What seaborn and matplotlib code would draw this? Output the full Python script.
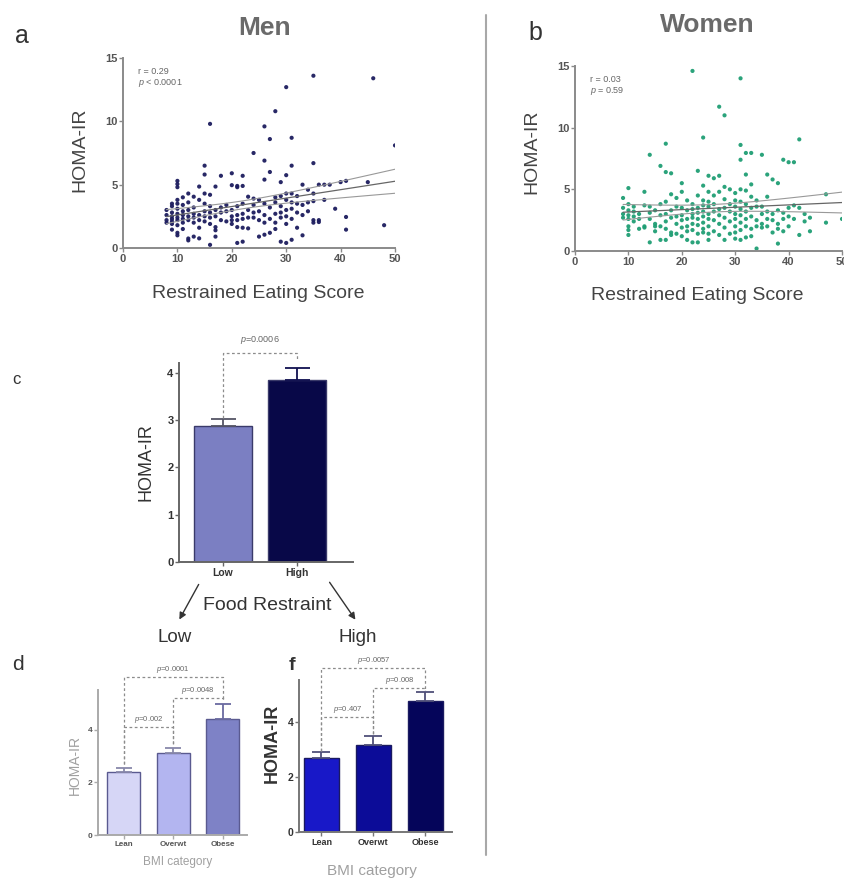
import numpy as np
import pandas as pd
import seaborn as sns
import matplotlib.pyplot as plt
from matplotlib.lines import Line2D
from matplotlib.patches import FancyArrowPatch

# ---- data ----
# panel a, men: (restrained eating score, HOMA-IR)
men_points = [
    (8, 3.0), (8, 2.6), (8, 2.2), (8, 2.0),
    (9, 3.5), (9, 3.3), (9, 2.8), (9, 2.5), (9, 2.3), (9, 2.1), (9, 1.9), (9, 1.45),
    (10, 5.3), (10, 5.05), (10, 4.8), (10, 3.8), (10, 3.5), (10, 3.1), (10, 2.7), (10, 2.4),
    (10, 2.2), (10, 1.8), (10, 1.2), (10, 1.0),
    (11, 4.0), (11, 3.4), (11, 2.9), (11, 2.6), (11, 2.3), (11, 2.0), (11, 1.5),
    (12, 4.3), (12, 3.6), (12, 3.0), (12, 2.5), (12, 2.2), (12, 0.75), (12, 0.6),
    (13, 4.05), (13, 3.2), (13, 2.7), (13, 2.4), (13, 2.0), (13, 0.9),
    (14, 4.85), (14, 3.8), (14, 2.6), (14, 2.2), (14, 1.6), (14, 0.76),
    (15, 6.5), (15, 5.8), (15, 4.3), (15, 3.5), (15, 2.9), (15, 2.5), (15, 2.1),
    (16, 9.8), (16, 4.2), (16, 3.3), (16, 2.8), (16, 2.4), (16, 1.9), (16, 0.25),
    (17, 4.85), (17, 3.0), (17, 2.5), (17, 1.65), (17, 1.4), (17, 0.9),
    (18, 5.7), (18, 3.2), (18, 2.8), (18, 2.2),
    (19, 3.4), (19, 2.9), (19, 2.1),
    (20, 5.9), (20, 4.96), (20, 3.0), (20, 2.5), (20, 2.2), (20, 1.9),
    (21, 4.9), (21, 4.8), (21, 3.3), (21, 2.6), (21, 2.2), (21, 1.65), (21, 0.4),
    (22, 5.7), (22, 4.9), (22, 3.5), (22, 2.7), (22, 2.3), (22, 1.6), (22, 0.5),
    (23, 4.05), (23, 3.0), (23, 2.4), (23, 1.55),
    (24, 7.5), (24, 3.9), (24, 3.4), (24, 2.8), (24, 2.4),
    (25, 3.8), (25, 2.9), (25, 2.2), (25, 0.9),
    (26, 9.6), (26, 6.9), (26, 5.4), (26, 3.5), (26, 2.6), (26, 2.0), (26, 1.05),
    (27, 8.6), (27, 6.0), (27, 3.2), (27, 2.3), (27, 1.2),
    (28, 10.8), (28, 4.0), (28, 3.6), (28, 2.7), (28, 2.0), (28, 1.5),
    (29, 5.2), (29, 4.1), (29, 3.3), (29, 2.8), (29, 2.4), (29, 0.5),
    (30, 12.7), (30, 5.75), (30, 4.3), (30, 3.8), (30, 3.0), (30, 2.5), (30, 1.9), (30, 0.4),
    (31, 8.7), (31, 6.5), (31, 4.3), (31, 3.6), (31, 3.1), (31, 2.3), (31, 0.65),
    (32, 4.1), (32, 3.5), (32, 2.8), (32, 1.6),
    (33, 5.0), (33, 3.4), (33, 2.6), (33, 1.0),
    (34, 4.6), (34, 3.6), (34, 2.9),
    (35, 13.6), (35, 6.7), (35, 4.3), (35, 3.7), (35, 2.2), (35, 2.0),
    (36, 5.0), (36, 2.2), (36, 2.05),
    (37, 5.0), (37, 3.8), (38, 5.0), (39, 3.1), (40, 5.2),
    (41, 5.3), (41, 2.45), (41, 1.45),
    (45, 5.2), (46, 13.4), (48, 1.8), (50, 8.1),
]

# panel b, women: (restrained eating score, HOMA-IR)
women_points = [
    (9, 4.3), (9, 3.5), (9, 3.0), (9, 2.7),
    (10, 5.1), (10, 3.8), (10, 3.3), (10, 2.9), (10, 2.6), (10, 2.0), (10, 1.7), (10, 1.3),
    (11, 3.6), (11, 3.2), (11, 2.8), (11, 2.4),
    (12, 3.0), (12, 2.6), (12, 1.8),
    (13, 4.8), (13, 3.7), (13, 2.0), (13, 1.9),
    (14, 7.8), (14, 3.6), (14, 3.1), (14, 2.6), (14, 0.7),
    (15, 3.3), (15, 2.2), (15, 2.0), (15, 1.6),
    (16, 6.9), (16, 3.8), (16, 2.9), (16, 2.0), (16, 0.9),
    (17, 8.7), (17, 6.4), (17, 4.0), (17, 3.0), (17, 2.4), (17, 1.8), (17, 0.9),
    (18, 6.3), (18, 4.6), (18, 3.3), (18, 2.7), (18, 1.5), (18, 1.3),
    (19, 4.3), (19, 3.6), (19, 2.8), (19, 2.2), (19, 1.4),
    (20, 5.5), (20, 4.8), (20, 3.5), (20, 2.9), (20, 2.5), (20, 1.9), (20, 1.2),
    (21, 4.1), (21, 3.3), (21, 2.6), (21, 2.0), (21, 1.6), (21, 0.9),
    (22, 14.6), (22, 3.8), (22, 3.4), (22, 3.0), (22, 2.7), (22, 2.2), (22, 1.7), (22, 0.7),
    (23, 6.5), (23, 4.5), (23, 3.5), (23, 3.1), (23, 2.6), (23, 2.1), (23, 1.4), (23, 0.7),
    (24, 9.2), (24, 5.3), (24, 4.1), (24, 3.7), (24, 3.2), (24, 2.8), (24, 2.3), (24, 1.8), (24, 1.5),
    (25, 6.1), (25, 4.8), (25, 4.0), (25, 3.6), (25, 3.0), (25, 2.6), (25, 2.0), (25, 1.4), (25, 0.9),
    (26, 5.9), (26, 4.5), (26, 3.8), (26, 3.2), (26, 2.5), (26, 1.6),
    (27, 11.7), (27, 6.1), (27, 4.8), (27, 3.4), (27, 2.9), (27, 2.2), (27, 1.3),
    (28, 11.0), (28, 5.2), (28, 4.2), (28, 3.5), (28, 2.7), (28, 1.9), (28, 0.9),
    (29, 5.0), (29, 3.8), (29, 3.2), (29, 2.4), (29, 1.4),
    (30, 4.7), (30, 4.1), (30, 3.6), (30, 3.0), (30, 2.6), (30, 2.0), (30, 1.5), (30, 1.0),
    (31, 14.0), (31, 8.6), (31, 7.4), (31, 5.0), (31, 4.0), (31, 3.4), (31, 2.9), (31, 2.3),
    (31, 1.7), (31, 0.9),
    (32, 7.95), (32, 6.2), (32, 4.9), (32, 3.8), (32, 3.2), (32, 2.6), (32, 2.0), (32, 1.1),
    (33, 7.95), (33, 5.4), (33, 4.4), (33, 3.5), (33, 2.8), (33, 1.8), (33, 1.2),
    (34, 4.1), (34, 3.6), (34, 2.5), (34, 2.0), (34, 0.2),
    (35, 7.8), (35, 3.6), (35, 3.0), (35, 2.2), (35, 1.9),
    (36, 6.2), (36, 4.4), (36, 3.2), (36, 2.6), (36, 2.0),
    (37, 5.8), (37, 3.0), (37, 2.5), (37, 1.5),
    (38, 5.5), (38, 3.3), (38, 2.2), (38, 1.8), (38, 0.6),
    (39, 7.4), (39, 3.1), (39, 2.6), (39, 1.6),
    (40, 7.2), (40, 3.5), (40, 2.8), (40, 2.0),
    (41, 7.2), (41, 3.7), (41, 2.6),
    (42, 9.05), (42, 3.5), (42, 1.3),
    (43, 3.0), (43, 2.4), (44, 2.7), (44, 1.6),
    (47, 4.6), (47, 2.3), (50, 2.6),
]

# panel c
restraint_cats = ['Low', 'High']
restraint_mean = [2.87, 3.85]
restraint_sem = [0.15, 0.25]

# panels d and f
bmi_cats = ['Lean', 'Overwt', 'Obese']
low_mean = [2.4, 3.12, 4.42]
low_sem = [0.15, 0.18, 0.58]
high_mean = [2.7, 3.16, 4.76]
high_sem = [0.2, 0.34, 0.34]

# ---- style ----
sns.set_style('ticks')
plt.rcParams['font.family'] = ['Liberation Sans', 'DejaVu Sans']
plt.rcParams['mathtext.fontset'] = 'custom'
plt.rcParams['mathtext.it'] = 'Liberation Sans:italic'
plt.rcParams['mathtext.rm'] = 'Liberation Sans'

W, H = 845, 882
fig = plt.figure(figsize=(W / 100, H / 100), dpi=100)


def rect(l, t, r, b):
    return [l / W, 1 - b / H, (r - l) / W, (b - t) / H]


def ftext(px, py, s, **kw):
    fig.text(px / W, 1 - py / H, s, ha='center', va='center', **kw)


def style_axis(ax, spine_col, tick_col, fs, bold=True):
    sns.despine(ax=ax)
    for sp in ['left', 'bottom']:
        ax.spines[sp].set_color(spine_col)
        ax.spines[sp].set_linewidth(1.4)
    ax.tick_params(colors=spine_col, length=3, width=1, labelsize=fs,
                   labelcolor=tick_col, pad=1)
    for lab in ax.get_xticklabels() + ax.get_yticklabels():
        lab.set_fontweight('bold' if bold else 'normal')
    ax.set_xlabel('')
    ax.set_ylabel('')


def ci_lines(x, y, xs):
    x = np.asarray(x, float)
    y = np.asarray(y, float)
    b, a = np.polyfit(x, y, 1)
    n = len(x)
    s = np.sqrt(np.sum((y - (a + b * x)) ** 2) / (n - 2))
    se = s * np.sqrt(1 / n + (xs - x.mean()) ** 2 / np.sum((x - x.mean()) ** 2))
    yh = a + b * xs
    return yh - 1.97 * se, yh + 1.97 * se


def scatter_panel(box, pts, color, r_txt, p_txt):
    df = pd.DataFrame(pts, columns=['score', 'homa'])
    ax = fig.add_axes(rect(*box))
    sns.regplot(data=df, x='score', y='homa', ax=ax, ci=None,
                scatter_kws=dict(s=9, color=color, edgecolor='none', alpha=0.95),
                line_kws=dict(color='#666666', lw=0.9))
    xs = np.linspace(df.score.min(), df.score.max(), 50)
    lo, hi = ci_lines(df.score, df.homa, xs)
    ax.plot(xs, lo, color='#999999', lw=0.8)
    ax.plot(xs, hi, color='#999999', lw=0.8)
    ax.set_xlim(0, 50)
    ax.set_ylim(0, 15)
    ax.set_xticks([0, 10, 20, 30, 40, 50])
    ax.set_yticks([0, 5, 10, 15])
    style_axis(ax, '#8a8a8a', '#555555', 8)
    ax.text(2.8, 13.9, r_txt, fontsize=6.5, color='#666666', va='center')
    ax.text(2.8, 13.0, p_txt, fontsize=6.5, color='#666666', va='center')
    return ax


def bar_panel(box, cats, means, sems, colors, edge, errcols, xlim, ylim, yticks, width, cap):
    ax = fig.add_axes(rect(*box))
    df = pd.DataFrame({'cat': cats, 'val': means})
    sns.barplot(data=df, x='cat', y='val', hue='cat', palette=colors, legend=False,
                width=width, edgecolor=edge, linewidth=1, saturation=1, ax=ax)
    for i in range(len(cats)):
        ax.errorbar(i, means[i], yerr=[[0], [sems[i]]], fmt='none', ecolor=errcols[i],
                    elinewidth=1.3, capsize=cap, capthick=1.3)
    ax.set_xlim(*xlim)
    ax.set_ylim(*ylim)
    ax.set_yticks(yticks)
    return ax


def bracket(ax, x0, x1, ya, yb, ytop, label, ty, fs):
    ax.plot([x0, x0, x1, x1], [ya, ytop, ytop, yb], ls=(0, (2.2, 2)), color='#8c8c8c',
            lw=0.9, clip_on=False)
    ax.text((x0 + x1) / 2, ty, label, ha='center', va='center', fontsize=fs,
            color='#666666', clip_on=False)


# ---- panel a & b ----
scatter_panel((123, 58, 395, 248), men_points, '#1c1c5e', 'r = 0.29', r'$p$ < 0.0001')
scatter_panel((575, 66, 842, 251), women_points, '#1f9e74', 'r = 0.03', r'$p$ = 0.59')

ftext(265, 28, 'Men', fontsize=19, fontweight='bold', color='#6a6a6a')
ftext(707, 25, 'Women', fontsize=19, fontweight='bold', color='#6a6a6a')
ftext(22, 36, 'a', fontsize=18, color='#333333')
ftext(535, 33, 'b', fontsize=18, color='#333333')
ftext(258, 293, 'Restrained Eating Score', fontsize=14, color='#444444')
ftext(697, 295, 'Restrained Eating Score', fontsize=14, color='#444444')
ftext(80, 150, 'HOMA-IR', fontsize=14, rotation=90, color='#444444')
ftext(532, 152, 'HOMA-IR', fontsize=14, rotation=90, color='#444444')

# ---- panel c ----
ax_c = bar_panel((179, 363, 353, 562), restraint_cats, restraint_mean, restraint_sem,
                 ['#7b7fc2', '#080848'], '#3a3a6a', ['#555566', '#101050'],
                 (-0.59, 1.76), (0, 4.21), [0, 1, 2, 3, 4], 0.78, 9)
style_axis(ax_c, '#666666', '#333333', 8)
ax_c.tick_params(axis='x', labelsize=7.5)
bracket(ax_c, 0, 1, 3.05, 4.3, 4.42, r'$p$=0.0006', 4.7, 6.5)
ftext(146, 462, 'HOMA-IR', fontsize=13, rotation=90, color='#333333')
ftext(16, 380, 'c', fontsize=12, color='#333333')
ftext(267, 605, 'Food Restraint', fontsize=14, color='#333333')
ftext(175, 638, 'Low', fontsize=13.5, color='#333333')
ftext(358, 638, 'High', fontsize=13.5, color='#333333')
for (x0, y0, x1, y1) in [(200, 582, 178, 622), (328, 580, 357, 622)]:
    fig.add_artist(FancyArrowPatch((x0 / W, 1 - y0 / H), (x1 / W, 1 - y1 / H),
                                   transform=fig.transFigure, arrowstyle='-|>',
                                   mutation_scale=10, color='#333333', lw=1))

# ---- panel d ----
ax_d = bar_panel((98, 690, 247, 835), bmi_cats, low_mean, low_sem,
                 ['#d6d6f6', '#b3b5f0', '#7e82c6'], '#5a5a90',
                 ['#8888aa', '#8888aa', '#6a6aa0'],
                 (-0.52, 2.49), (0, 5.52), [0, 2, 4], 0.67, 5.5)
style_axis(ax_d, '#aaaaaa', '#555555', 6)
ax_d.tick_params(axis='x', labelsize=5.8)
bracket(ax_d, 0, 2, 2.7, 5.1, 6.0, r'$p$=0.0001', 6.3, 5.5)
bracket(ax_d, 0, 1, 2.7, 3.45, 4.1, r'$p$=0.002', 4.4, 5.5)
bracket(ax_d, 1, 2, 3.45, 5.1, 5.2, r'$p$=0.0048', 5.5, 5.5)
ftext(75, 765, 'HOMA-IR', fontsize=10, rotation=90, color='#a0a0a0')
ftext(178, 862, 'BMI category', fontsize=8.5, color='#a0a0a0')
ftext(18, 665, 'd', fontsize=15, color='#333333')

# ---- panel f ----
ax_f = bar_panel((299, 680, 452, 832), bmi_cats, high_mean, high_sem,
                 ['#1818c8', '#0c0c98', '#05055a'], '#1a1a60',
                 ['#50507a', '#50507a', '#50507a'],
                 (-0.43, 2.51), (0, 5.53), [0, 2, 4], 0.67, 6.5)
style_axis(ax_f, '#777777', '#333333', 7.5)
ax_f.tick_params(axis='x', labelsize=6.5)
bracket(ax_f, 0, 2, 2.95, 5.15, 5.96, r'$p$=0.0057', 6.25, 5.5)
bracket(ax_f, 0, 1, 2.95, 3.55, 4.18, r'$p$=0.407', 4.45, 5.5)
bracket(ax_f, 1, 2, 3.55, 5.15, 5.24, r'$p$=0.008', 5.52, 5.5)
ftext(272, 743, 'HOMA-IR', fontsize=13, rotation=90, fontweight='bold', color='#333333')
ftext(372, 871, 'BMI category', fontsize=11, color='#a0a0a0')
ftext(292, 665, 'f', fontsize=14, fontweight='bold', color='#333333')

# divider between men and women
fig.add_artist(Line2D([486 / W, 486 / W], [1 - 15 / H, 1 - 855 / H],
                      transform=fig.transFigure, color='#a8a8a8', lw=1.5))

fig.savefig('out.png', dpi=100)
